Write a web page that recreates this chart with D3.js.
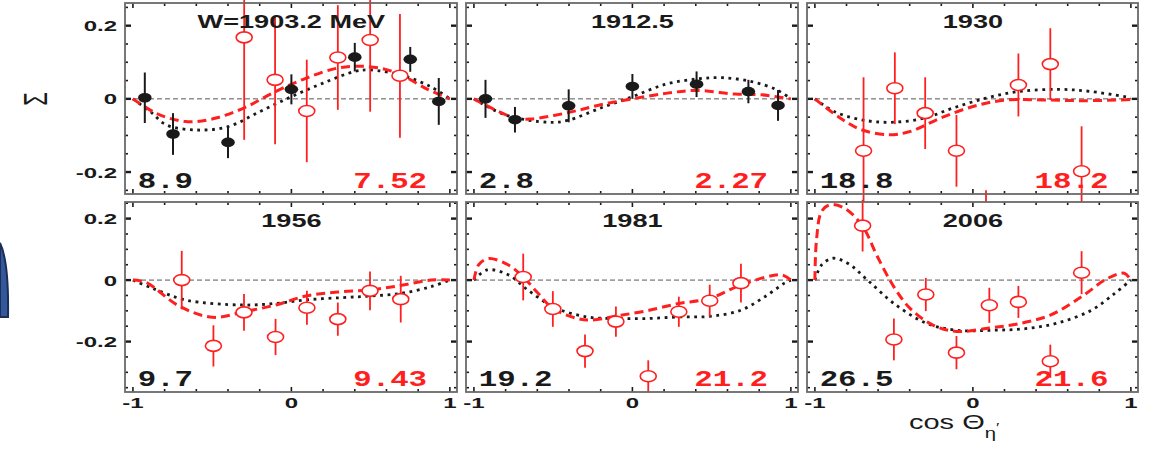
<!DOCTYPE html>
<html>
<head>
<meta charset="utf-8">
<script src="https://cdn.jsdelivr.net/npm/d3@7"></script>
<style>
  html, body { margin: 0; padding: 0; background: #fff; }
  svg { display: block; }
</style>
</head>
<body>
<svg id="chart"></svg>
<script>
// Panel titles and chi^2 values (black = dotted fit, red = dashed fit)
const panelTitles = ["W=1903.2 MeV", "1912.5", "1930", "1956", "1981", "2006"];
const chiBlack = ["8.9", "2.8", "18.8", "9.7", "19.2", "26.5"];
const chiRed = ["7.52", "2.27", "18.2", "9.43", "21.2", "21.6"];

// Tick values
const xTickLabels = [-1, 0, 1];
const xMinorTicks = [-1, -0.8, -0.6, -0.4, -0.2, 0, 0.2, 0.4, 0.6, 0.8, 1];
const yTickLabels = [-0.2, 0, 0.2];
const yMinorTop = [-0.25, -0.2, -0.15, -0.1, -0.05, 0, 0.05, 0.1, 0.15, 0.2, 0.25];
const yMinorBottom = [-0.35, -0.3, -0.25, -0.2, -0.15, -0.1, -0.05, 0, 0.05, 0.1, 0.15, 0.2, 0.25];

// Black filled points: [cos, sigma, error]
const blackPoints = [
  [[-0.925, 0.003, 0.069], [-0.747, -0.096, 0.057], [-0.40, -0.119, 0.043], [0.0, 0.026, 0.041],
   [0.40, 0.114, 0.039], [0.75, 0.108, 0.034], [0.93, -0.007, 0.064]],
  [[-0.927, 0.0, 0.052], [-0.741, -0.057, 0.035], [-0.402, -0.019, 0.045], [0.0, 0.034, 0.034],
   [0.405, 0.040, 0.035], [0.732, 0.020, 0.032], [0.919, -0.018, 0.042]],
  [], [], [], []
];

// Red open points: [cos, sigma, error]
const redPoints = [
  [[-0.298, 0.168, 0.28], [-0.103, 0.052, 0.176], [0.097, -0.033, 0.14], [0.293, 0.113, 0.143],
   [0.497, 0.161, 0.196], [0.685, 0.063, 0.169]],
  [],
  [[-0.692, -0.142, 0.201], [-0.494, 0.029, 0.098], [-0.302, -0.039, 0.098], [-0.104, -0.142, 0.098],
   [0.083, -0.35, 0.10], [0.288, 0.038, 0.086], [0.49, 0.095, 0.098], [0.688, -0.198, 0.123]],
  [[-0.692, 0.0, 0.095], [-0.492, -0.214, 0.067], [-0.299, -0.105, 0.06], [-0.10, -0.185, 0.059],
   [0.098, -0.09, 0.055], [0.293, -0.127, 0.054], [0.496, -0.035, 0.063], [0.69, -0.062, 0.076]],
  [[-0.689, 0.01, 0.076], [-0.502, -0.094, 0.058], [-0.299, -0.231, 0.054], [-0.104, -0.135, 0.049],
   [0.10, -0.313, 0.052], [0.293, -0.103, 0.049], [0.488, -0.067, 0.052], [0.685, -0.01, 0.063]],
  [[-0.698, 0.177, 0.084], [-0.5, -0.193, 0.068], [-0.298, -0.047, 0.054], [-0.104, -0.236, 0.054],
   [0.104, -0.082, 0.057], [0.288, -0.071, 0.052], [0.49, -0.264, 0.054], [0.688, 0.024, 0.07]]
];

// Red dashed fit curves: [cos, sigma]
const dashedFits = [
  [[-1, 0], [-0.85, -0.04], [-0.67, -0.062], [-0.5, -0.055], [-0.3, -0.025], [-0.1, 0.02], [0.09, 0.056],
   [0.29, 0.084], [0.45, 0.089], [0.6, 0.08], [0.7, 0.064], [0.86, 0.026], [1, 0]],
  [[-1, 0], [-0.74, -0.053], [-0.64, -0.055], [-0.4, -0.037], [-0.2, -0.016], [0, 0], [0.21, 0.015],
   [0.4, 0.023], [0.65, 0.013], [0.815, 0.011], [1, 0]],
  [[-1, 0], [-0.854, -0.048], [-0.708, -0.084], [-0.53, -0.098], [-0.396, -0.089], [-0.208, -0.053],
   [0, -0.021], [0.208, -0.003], [0.44, -0.003], [0.71, -0.005], [1, -0.002]],
  [[-1, 0], [-0.916, -0.008], [-0.707, -0.085], [-0.498, -0.121], [-0.3, -0.103], [-0.1, -0.081],
   [0.098, -0.051], [0.293, -0.039], [0.496, -0.032], [0.695, -0.017], [0.883, 0], [1, 0]],
  [[-1, 0], [-0.97, 0.05], [-0.907, 0.07], [-0.782, 0.049], [-0.689, 0.01], [-0.595, -0.043], [-0.502, -0.092],
   [-0.346, -0.125], [-0.263, -0.13], [-0.104, -0.117], [0.089, -0.1], [0.293, -0.076], [0.488, -0.06],
   [0.685, -0.016], [0.94, 0.017], [1, 0]],
  [[-1, 0], [-0.99, 0.13], [-0.958, 0.223], [-0.906, 0.245], [-0.8125, 0.234], [-0.698, 0.175],
   [-0.604, 0.076], [-0.5, -0.022], [-0.396, -0.093], [-0.25, -0.147], [-0.104, -0.167], [0.104, -0.156],
   [0.288, -0.142], [0.49, -0.114], [0.688, -0.054], [0.854, 0.006], [0.958, 0.022], [1, 0]]
];

// Black dotted fit curves: [cos, sigma]
const dottedFits = [
  [[-1, 0], [-0.89, -0.035], [-0.79, -0.071], [-0.6, -0.085], [-0.4, -0.076], [-0.2, -0.035], [0, 0.006],
   [0.2, 0.043], [0.4, 0.075], [0.5, 0.079], [0.7, 0.064], [0.88, 0.033], [1, 0]],
  [[-1, 0], [-0.8, -0.044], [-0.53, -0.064], [-0.41, -0.059], [-0.2, -0.025], [0, 0.006], [0.21, 0.04],
   [0.4, 0.054], [0.566, 0.058], [0.753, 0.047], [0.91, 0.025], [1, 0]],
  [[-1, 0], [-0.875, -0.035], [-0.708, -0.057], [-0.52, -0.064], [-0.31, -0.053], [-0.125, -0.025],
   [0.083, 0.002], [0.29, 0.02], [0.54, 0.026], [0.75, 0.02], [1, 0.003]],
  [[-1, 0], [-0.875, -0.027], [-0.665, -0.065], [-0.31, -0.081], [-0.1, -0.076], [0.098, -0.064],
   [0.318, -0.057], [0.496, -0.052], [0.695, -0.043], [0.883, -0.021], [1, 0]],
  [[-1, 0], [-0.917, 0.033], [-0.782, 0.017], [-0.658, -0.033], [-0.492, -0.089], [-0.284, -0.12],
   [-0.104, -0.125], [0.089, -0.125], [0.293, -0.12], [0.488, -0.118], [0.685, -0.098], [0.836, -0.054],
   [0.96, -0.01], [1, 0]],
  [[-1, 0], [-0.958, 0.049], [-0.885, 0.071], [-0.79, 0.054], [-0.667, 0], [-0.5, -0.076], [-0.292, -0.141],
   [-0.104, -0.163], [0.125, -0.163], [0.333, -0.158], [0.54, -0.139], [0.75, -0.098], [0.896, -0.044], [1, 0]]
];

// Layout
const svgWidth = 1159;
const svgHeight = 452;
const colX = [[125, 457], [466, 798], [807, 1138]];
const rowY = [[3, 194], [202, 392]];
const rowDomain = [[-0.26, 0.262], [-0.364, 0.254]];
const stretch = 1.55;   // the figure is stretched horizontally
const RED = "#ff1f1f";
const INK = "#1a1a1a";

const svg = d3.select("#chart")
  .attr("width", svgWidth)
  .attr("height", svgHeight)
  .attr("viewBox", `0 0 ${svgWidth} ${svgHeight}`);

// stretched text helper
function sText(g, x, y, str, opts) {
  return g.append("text")
    .attr("transform", `translate(${x},${y}) scale(${opts.sx || stretch},1)`)
    .attr("text-anchor", opts.anchor || "start")
    .attr("font-family", opts.family || "'Liberation Sans', Arial, sans-serif")
    .attr("font-size", opts.size)
    .attr("font-weight", opts.weight || "normal")
    .attr("fill", opts.fill || INK)
    .text(str);
}

// Decorative slide arc on the far left
svg.append("path")
  .attr("d", "M0,243 Q9,262 8,317 L0,317 Z")
  .attr("fill", "#33589a")
  .attr("stroke", "#1b2d58")
  .attr("stroke-width", 2);

function drawPanel(i) {
  const col = i % 3;
  const row = Math.floor(i / 3);
  const [x0, x1] = colX[col];
  const [y0, y1] = rowY[row];

  const x = d3.scaleLinear().domain([-1.05, 1.045]).range([x0, x1]);
  const y = d3.scaleLinear().domain(rowDomain[row]).range([y1, y0]);

  const g = svg.append("g").attr("class", "panel");

  // white background (hides overflow from the row above)
  g.append("rect")
    .attr("x", x0).attr("y", y0)
    .attr("width", x1 - x0).attr("height", y1 - y0)
    .attr("fill", "#fff");

  // zero line
  g.append("line")
    .attr("x1", x0).attr("x2", x1)
    .attr("y1", y(0)).attr("y2", y(0))
    .attr("stroke", "#444")
    .attr("stroke-width", 0.9)
    .attr("stroke-dasharray", "5,3");

  const line = d3.line()
    .x(d => x(d[0]))
    .y(d => y(d[1]))
    .curve(d3.curveCatmullRom.alpha(0.5));

  // dotted fit (black)
  g.append("path")
    .attr("d", line(dottedFits[i]))
    .attr("fill", "none")
    .attr("stroke", INK)
    .attr("stroke-width", 2.8)
    .attr("stroke-dasharray", "2.8,4.6");

  // dashed fit (red)
  g.append("path")
    .attr("d", line(dashedFits[i]))
    .attr("fill", "none")
    .attr("stroke", RED)
    .attr("stroke-width", 3)
    .attr("stroke-dasharray", "9,5");

  // red open points with error bars
  const red = g.append("g");
  red.selectAll("line")
    .data(redPoints[i])
    .join("line")
    .attr("x1", d => x(d[0])).attr("x2", d => x(d[0]))
    .attr("y1", d => y(d[1] + d[2])).attr("y2", d => y(d[1] - d[2]))
    .attr("stroke", RED)
    .attr("stroke-width", 1.8);
  red.selectAll("ellipse")
    .data(redPoints[i])
    .join("ellipse")
    .attr("cx", d => x(d[0])).attr("cy", d => y(d[1]))
    .attr("rx", 8).attr("ry", 5.5)
    .attr("fill", "#fff")
    .attr("stroke", RED)
    .attr("stroke-width", 1.6);

  // black filled points with error bars
  const blk = g.append("g");
  blk.selectAll("line")
    .data(blackPoints[i])
    .join("line")
    .attr("x1", d => x(d[0])).attr("x2", d => x(d[0]))
    .attr("y1", d => y(d[1] + d[2])).attr("y2", d => y(d[1] - d[2]))
    .attr("stroke", INK)
    .attr("stroke-width", 2);
  blk.selectAll("ellipse")
    .data(blackPoints[i])
    .join("ellipse")
    .attr("cx", d => x(d[0])).attr("cy", d => y(d[1]))
    .attr("rx", 6.8).attr("ry", 4.8)
    .attr("fill", INK);

  // ticks on all four sides, pointing inward
  const yMinor = row === 0 ? yMinorTop : yMinorBottom;
  const tickG = g.append("g").attr("stroke", INK);
  const isMajorX = v => Math.abs(v) < 1e-9 || Math.abs(Math.abs(v) - 1) < 1e-9;
  const isMajorY = v => yTickLabels.some(t => Math.abs(t - v) < 1e-9);
  tickG.selectAll(".xt")
    .data(xMinorTicks)
    .join("line")
    .attr("class", "xt")
    .attr("x1", d => x(d)).attr("x2", d => x(d))
    .attr("y1", y1).attr("y2", d => y1 - (isMajorX(d) ? 5 : 3))
    .attr("stroke-width", 1.6);
  tickG.selectAll(".xtt")
    .data(xMinorTicks)
    .join("line")
    .attr("class", "xtt")
    .attr("x1", d => x(d)).attr("x2", d => x(d))
    .attr("y1", y0).attr("y2", d => y0 + (isMajorX(d) ? 5 : 3))
    .attr("stroke-width", 1.6);
  tickG.selectAll(".yt")
    .data(yMinor)
    .join("line")
    .attr("class", "yt")
    .attr("x1", x0).attr("x2", d => x0 + (isMajorY(d) ? 6 : 3))
    .attr("y1", d => y(d)).attr("y2", d => y(d))
    .attr("stroke-width", d => isMajorY(d) ? 2.4 : 1.6);
  tickG.selectAll(".ytr")
    .data(yMinor)
    .join("line")
    .attr("class", "ytr")
    .attr("x1", x1).attr("x2", d => x1 - (isMajorY(d) ? 6 : 3))
    .attr("y1", d => y(d)).attr("y2", d => y(d))
    .attr("stroke-width", d => isMajorY(d) ? 2.4 : 1.6);

  // frame
  g.append("rect")
    .attr("x", x0).attr("y", y0)
    .attr("width", x1 - x0).attr("height", y1 - y0)
    .attr("fill", "none")
    .attr("stroke", "#6a6a6a")
    .attr("stroke-width", 1.8);

  // panel title
  sText(g, x(0), y0 + 25, panelTitles[i], { size: 17.5, anchor: "middle", weight: "bold" });

  // chi^2 numbers
  const mono = "'Liberation Mono', 'Courier New', monospace";
  sText(g, x(-0.97), y1 - 6, chiBlack[i], { size: 22, family: mono, sx: 1.4, fill: INK, weight: "bold" });
  sText(g, x(0.39), y1 - 6, chiRed[i], { size: 22, family: mono, sx: 1.4, fill: RED, weight: "bold" });

  // y tick labels on the left column
  if (col === 0) {
    yTickLabels.forEach(v => {
      sText(g, x0 - 8, y(v) + 5.5, v === 0 ? "0" : String(v), { size: 15, anchor: "end", weight: "bold", sx: 1.6 });
    });
  }
  // x tick labels on the bottom row
  if (row === 1) {
    xTickLabels.forEach(v => {
      sText(g, x(v), y1 + 16, String(v), { size: 15, anchor: "middle", weight: "bold", sx: 1.6 });
    });
  }
}

// top row first so the bottom row covers any overflowing error bars
for (let i = 0; i < 6; i++) drawPanel(i);

// y axis label (Sigma, rotated)
svg.append("text")
  .attr("transform", `translate(35,99) scale(${stretch},1) rotate(-90)`)
  .attr("text-anchor", "middle")
  .attr("dominant-baseline", "central")
  .attr("font-family", "'Liberation Sans', Arial, sans-serif")
  .attr("font-size", 22)
  .attr("fill", INK)
  .text("Σ");

// x axis label: cos Θ_η'
const xl = svg.append("text")
  .attr("transform", `translate(909,429) scale(1.45,1)`)
  .attr("font-family", "'Liberation Sans', Arial, sans-serif")
  .attr("fill", INK);
xl.append("tspan").attr("font-size", 20).text("cos Θ");
xl.append("tspan").attr("font-size", 14).attr("dy", 9).text("η");
xl.append("tspan").attr("font-size", 12).attr("dy", -6).text("′");
</script>
</body>
</html>
